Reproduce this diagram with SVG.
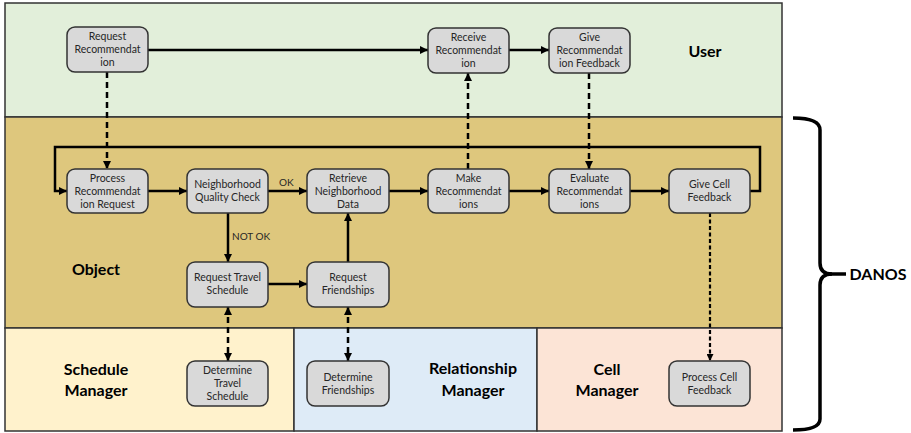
<svg xmlns="http://www.w3.org/2000/svg" width="911" height="433" viewBox="0 0 911 433">
  <defs>
    <marker id="arrow" viewBox="0 0 8 8" refX="8" refY="4" markerWidth="8" markerHeight="8" markerUnits="userSpaceOnUse" orient="auto-start-reverse">
      <path d="M0,0 L8,4 L0,8 z" fill="#000"/>
    </marker>
    <marker id="arrow-sm" viewBox="0 0 8 8" refX="8" refY="4" markerWidth="7" markerHeight="7" markerUnits="userSpaceOnUse" orient="auto-start-reverse">
      <path d="M0,0 L8,4 L0,8 z" fill="#000"/>
    </marker>
    <style>
      .lane { stroke: #333; stroke-width: 1.5; }
      .node rect { fill: #d9d9d9; stroke: #333; stroke-width: 1.5; }
      .node text { font-family: "Lato", "Liberation Sans", sans-serif; font-size: 10.5px; fill: #262626; text-anchor: middle; }
      .lane-label { font-family: "Lato", "Liberation Sans", sans-serif; font-size: 16px; font-weight: bold; fill: #000; text-anchor: middle; }
      .edge { fill: none; stroke: #000; stroke-width: 2.5; }
      .solid { marker-end: url(#arrow); }
      .dashed { stroke-dasharray: 6 4; marker-end: url(#arrow); }
      .both { stroke-dasharray: 6 4; marker-start: url(#arrow); marker-end: url(#arrow); }
      .fine { stroke-width: 2.2; stroke-dasharray: 4 2.5; marker-end: url(#arrow-sm); }
      .edge-label { font-family: "Lato", "Liberation Sans", sans-serif; font-size: 10px; fill: #262626; }
      .brace { fill: none; stroke: #000; stroke-width: 3.5; }
    </style>
  </defs>

  <!-- swimlanes -->
  <g id="lanes">
    <rect class="lane" x="5" y="3" width="777" height="114" fill="#e2efda"/>
    <rect class="lane" x="5" y="117" width="777" height="211" fill="#dec77d"/>
    <rect class="lane" x="5" y="328" width="289" height="103" fill="#fff2cc"/>
    <rect class="lane" x="294" y="328" width="243" height="103" fill="#deebf7"/>
    <rect class="lane" x="537" y="328" width="245" height="103" fill="#fce4d6"/>
    <text class="lane-label" x="705" y="57">User</text>
    <text class="lane-label" x="96" y="275">Object</text>
    <text class="lane-label" x="96" y="375">Schedule</text>
    <text class="lane-label" x="96" y="396">Manager</text>
    <text class="lane-label" x="473" y="374">Relationship</text>
    <text class="lane-label" x="473" y="396">Manager</text>
    <text class="lane-label" x="607" y="375">Cell</text>
    <text class="lane-label" x="607" y="396">Manager</text>
  </g>

  <!-- connectors -->
  <g id="connectors">
    <path class="edge solid" d="M148,50 H428"/>
    <path class="edge solid" d="M509,50 H549"/>
    <path class="edge dashed" d="M107,72 V169"/>
    <path class="edge dashed" d="M468,169 V73"/>
    <path class="edge dashed" d="M589,73 V169"/>
    <path class="edge solid" d="M148,191 H187"/>
    <path class="edge solid" d="M268,191 H307"/>
    <path class="edge solid" d="M389,191 H428"/>
    <path class="edge solid" d="M509,191 H549"/>
    <path class="edge solid" d="M630,191 H669"/>
    <path class="edge solid" d="M750,191 H760 V147 H55 V191 H67"/>
    <path class="edge solid" d="M228,213 V262"/>
    <path class="edge solid" d="M268,284 H307"/>
    <path class="edge solid" d="M348,262 V213"/>
    <path class="edge both" d="M228,307 V361"/>
    <path class="edge both" d="M348,307 V361"/>
    <path class="edge fine" d="M710,213 V361"/>
    <text class="edge-label" x="279" y="186">OK</text>
    <text class="edge-label" x="232" y="240">NOT OK</text>
  </g>

  <!-- nodes -->
  <g id="request-recommendation" class="node">
    <rect x="67" y="27" width="81" height="45" rx="8"/>
    <text x="107.5" y="40">Request</text>
    <text x="107.5" y="53">Recommendat</text>
    <text x="107.5" y="66">ion</text>
  </g>
  <g id="receive-recommendation" class="node">
    <rect x="428" y="28" width="81" height="45" rx="8"/>
    <text x="468.5" y="41">Receive</text>
    <text x="468.5" y="54">Recommendat</text>
    <text x="468.5" y="67">ion</text>
  </g>
  <g id="give-recommendation-feedback" class="node">
    <rect x="549" y="28" width="81" height="45" rx="8"/>
    <text x="589.5" y="41">Give</text>
    <text x="589.5" y="54">Recommendat</text>
    <text x="589.5" y="67">ion Feedback</text>
  </g>
  <g id="process-recommendation-request" class="node">
    <rect x="67" y="169" width="81" height="44" rx="8"/>
    <text x="107.5" y="182">Process</text>
    <text x="107.5" y="195">Recommendat</text>
    <text x="107.5" y="208">ion Request</text>
  </g>
  <g id="neighborhood-quality-check" class="node">
    <rect x="187" y="169" width="81" height="44" rx="8"/>
    <text x="227.5" y="188">Neighborhood</text>
    <text x="227.5" y="201">Quality Check</text>
  </g>
  <g id="retrieve-neighborhood-data" class="node">
    <rect x="307" y="169" width="82" height="44" rx="8"/>
    <text x="348" y="182">Retrieve</text>
    <text x="348" y="195">Neighborhood</text>
    <text x="348" y="208">Data</text>
  </g>
  <g id="make-recommendations" class="node">
    <rect x="428" y="169" width="81" height="44" rx="8"/>
    <text x="468.5" y="182">Make</text>
    <text x="468.5" y="195">Recommendat</text>
    <text x="468.5" y="208">ions</text>
  </g>
  <g id="evaluate-recommendations" class="node">
    <rect x="549" y="169" width="81" height="44" rx="8"/>
    <text x="589.5" y="182">Evaluate</text>
    <text x="589.5" y="195">Recommendat</text>
    <text x="589.5" y="208">ions</text>
  </g>
  <g id="give-cell-feedback" class="node">
    <rect x="669" y="169" width="81" height="44" rx="8"/>
    <text x="709.5" y="188">Give Cell</text>
    <text x="709.5" y="201">Feedback</text>
  </g>
  <g id="request-travel-schedule" class="node">
    <rect x="187" y="262" width="81" height="45" rx="8"/>
    <text x="227.5" y="281">Request Travel</text>
    <text x="227.5" y="294">Schedule</text>
  </g>
  <g id="request-friendships" class="node">
    <rect x="307" y="262" width="82" height="45" rx="8"/>
    <text x="348" y="281">Request</text>
    <text x="348" y="294">Friendships</text>
  </g>
  <g id="determine-travel-schedule" class="node">
    <rect x="187" y="361" width="81" height="45" rx="8"/>
    <text x="227.5" y="374">Determine</text>
    <text x="227.5" y="387">Travel</text>
    <text x="227.5" y="400">Schedule</text>
  </g>
  <g id="determine-friendships" class="node">
    <rect x="307" y="361" width="82" height="45" rx="8"/>
    <text x="348" y="381">Determine</text>
    <text x="348" y="394">Friendships</text>
  </g>
  <g id="process-cell-feedback" class="node">
    <rect x="669" y="361" width="81" height="45" rx="8"/>
    <text x="709.5" y="381">Process Cell</text>
    <text x="709.5" y="394">Feedback</text>
  </g>

  <!-- system brace -->
  <g id="danos">
    <path class="brace" d="M793,118 Q820,118 820,130 V263 Q820,274 832,274 Q820,274 820,285 V419 Q820,430 793,430"/>
    <path class="brace" d="M828,274 H846" stroke-width="4"/>
    <text class="lane-label" x="878" y="280">DANOS</text>
  </g>
</svg>
